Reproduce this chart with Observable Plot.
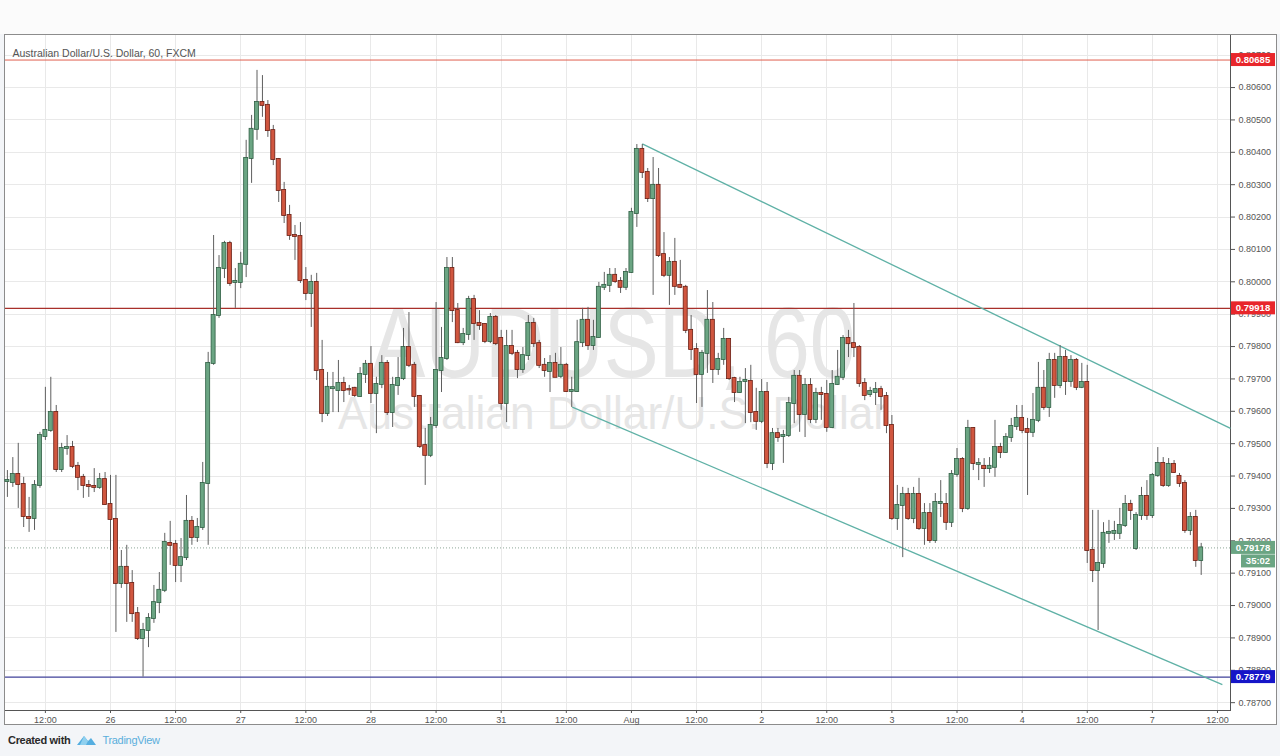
<!DOCTYPE html>
<html><head><meta charset="utf-8">
<script src="https://cdn.jsdelivr.net/npm/d3@7"></script>
<script src="https://cdn.jsdelivr.net/npm/@observablehq/plot@0.6"></script>
<style>
body{margin:0;background:#f5f6f8;font-family:"Liberation Sans",Arial,sans-serif;}
#wrap{position:relative;width:1280px;height:756px;background:#f3f5f8;overflow:hidden;}
#top{position:absolute;left:0;top:0;width:1280px;height:34px;background:#fbfbfb;}
#box{position:absolute;left:4px;top:34px;width:1273px;height:691px;background:#fff;border:1px solid #8c8c8c;box-sizing:border-box;}
#plot{position:absolute;left:0;top:0;}
#footer{position:absolute;left:8px;top:733px;font-size:11px;font-weight:bold;color:#2a2a2a;display:flex;align-items:center;gap:5px;letter-spacing:-0.3px;}
#footer .tv{color:#5aaedc;font-weight:normal;}
</style></head>
<body><div id="wrap"><div id="top"></div><div id="box"></div><div id="plot"></div>
<div id="footer"><span>Created with</span>
<svg width="22" height="14" viewBox="0 0 22 14"><path d="M2 12 L9 3 L13 8 L16 5 L21 12 Z" fill="#55aee0"/><path d="M9 3 L13 8 L11 12 L5 12 Z" fill="#8fd0ef"/></svg>
<span class="tv">TradingView</span></div></div>
<script>
// AUD/USD, 60 min candles, FXCM. Hour index: 0 = 26 Jul 00:00 (weekend hours removed)
const START_HOUR = -19;
const open = [0.79383,0.79380,0.79405,0.79374,0.79272,0.79269,0.79371,0.79522,0.79541,0.79596,
0.79420,0.79485,0.79488,0.79430,0.79396,0.79371,0.79368,0.79365,0.79389,0.79312,
0.79266,0.79068,0.79118,0.79068,0.78975,0.78898,0.78923,0.78960,0.79009,0.79047,
0.79192,0.79189,0.79124,0.79148,0.79260,0.79210,0.79241,0.79377,0.79748,0.79896,
0.80041,0.80118,0.79998,0.79998,0.80054,0.80381,0.80471,0.80554,0.80545,0.80467,
0.80378,0.80282,0.80205,0.80143,0.80140,0.80004,0.79964,0.79998,0.79726,0.79593,
0.79670,0.79664,0.79686,0.79667,0.79671,0.79646,0.79714,0.79745,0.79655,0.79683,
0.79748,0.79596,0.79680,0.79701,0.79797,0.79742,0.79646,0.79494,0.79464,0.79556,
0.79726,0.79763,0.80041,0.79911,0.79812,0.79837,0.79945,0.79871,0.79868,0.79816,
0.79890,0.79825,0.79624,0.79800,0.79779,0.79729,0.79772,0.79871,0.79809,0.79742,
0.79723,0.79748,0.79708,0.79742,0.79661,0.79661,0.79812,0.79881,0.79803,0.79828,
0.79983,0.79989,0.80020,0.80001,0.79983,0.80029,0.80211,0.80409,0.80338,0.80257,
0.80298,0.80084,0.80020,0.80060,0.79989,0.79983,0.79850,0.79791,0.79714,0.79779,
0.79881,0.79729,0.79760,0.79822,0.79701,0.79658,0.79692,0.79692,0.79596,0.79569,
0.79658,0.79439,0.79531,0.79522,0.79525,0.79624,0.79708,0.79590,0.79680,0.79575,
0.79655,0.79652,0.79550,0.79683,0.79705,0.79825,0.79809,0.79797,0.79686,0.79652,
0.79658,0.79667,0.79646,0.79556,0.79269,0.79309,0.79343,0.79269,0.79343,0.79238,
0.79284,0.79201,0.79315,0.79312,0.79257,0.79405,0.79451,0.79300,0.79547,0.79436,
0.79430,0.79423,0.79427,0.79488,0.79473,0.79519,0.79553,0.79578,0.79544,0.79535,
0.79572,0.79671,0.79612,0.79757,0.79680,0.79766,0.79692,0.79757,0.79674,0.79689,
0.79170,0.79108,0.79130,0.79223,0.79223,0.79223,0.79247,0.79312,0.79176,0.79278,
0.79337,0.79278,0.79402,0.79439,0.79371,0.79436,0.79399,0.79377,0.79232,0.79272,
0.79139];
const high = [0.79417,0.79457,0.79501,0.79396,0.79334,0.79386,0.79535,0.79674,0.79705,0.79618,
0.79501,0.79525,0.79507,0.79442,0.79405,0.79386,0.79423,0.79408,0.79411,0.79402,
0.79402,0.79170,0.79186,0.79108,0.78994,0.78945,0.78975,0.79062,0.79102,0.79223,
0.79260,0.79201,0.79207,0.79340,0.79275,0.79269,0.79442,0.79782,0.80143,0.80081,
0.80125,0.80125,0.80041,0.80091,0.80437,0.80514,0.80653,0.80637,0.80560,0.80483,
0.80381,0.80307,0.80236,0.80174,0.80183,0.80044,0.80020,0.80026,0.79819,0.79720,
0.79720,0.79757,0.79705,0.79680,0.79674,0.79735,0.79757,0.79800,0.79705,0.79772,
0.79757,0.79705,0.79766,0.79856,0.79905,0.79751,0.79649,0.79547,0.79581,0.79936,
0.79859,0.80075,0.80075,0.79933,0.79856,0.79955,0.79958,0.79911,0.79871,0.79902,
0.79896,0.79850,0.79850,0.79850,0.79788,0.79797,0.79896,0.79887,0.79819,0.79763,
0.79772,0.79779,0.79797,0.79748,0.79705,0.79881,0.79918,0.79921,0.79881,0.79998,
0.80029,0.80041,0.80041,0.80013,0.80041,0.80227,0.80424,0.80424,0.80350,0.80384,
0.80350,0.80152,0.80075,0.80134,0.80066,0.79989,0.79896,0.79809,0.79788,0.79973,
0.79936,0.79779,0.79856,0.79825,0.79705,0.79705,0.79732,0.79742,0.79671,0.79698,
0.79689,0.79547,0.79547,0.79541,0.79643,0.79726,0.79726,0.79701,0.79701,0.79671,
0.79674,0.79695,0.79726,0.79788,0.79834,0.79850,0.79933,0.79803,0.79701,0.79674,
0.79689,0.79677,0.79658,0.79587,0.79371,0.79365,0.79362,0.79365,0.79393,0.79315,
0.79315,0.79346,0.79386,0.79346,0.79417,0.79485,0.79457,0.79572,0.79550,0.79454,
0.79454,0.79457,0.79572,0.79501,0.79531,0.79578,0.79618,0.79618,0.79578,0.79655,
0.79751,0.79726,0.79779,0.79779,0.79803,0.79788,0.79772,0.79763,0.79748,0.79742,
0.79294,0.79294,0.79256,0.79263,0.79260,0.79300,0.79340,0.79325,0.79287,0.79365,
0.79386,0.79408,0.79488,0.79457,0.79454,0.79448,0.79408,0.79386,0.79287,0.79294,
0.79192];
const low = [0.79334,0.79365,0.79300,0.79241,0.79226,0.79232,0.79362,0.79510,0.79535,0.79411,
0.79411,0.79464,0.79423,0.79355,0.79331,0.79334,0.79349,0.79359,0.79309,0.79170,
0.78917,0.79053,0.78948,0.78948,0.78892,0.78779,0.78870,0.78945,0.78975,0.79040,
0.79124,0.79071,0.79071,0.79139,0.79186,0.79195,0.79232,0.79186,0.79742,0.79887,
0.80010,0.79986,0.79918,0.79979,0.80013,0.80304,0.80437,0.80508,0.80446,0.80359,
0.80245,0.80180,0.80128,0.80066,0.79995,0.79942,0.79859,0.79695,0.79565,0.79584,
0.79596,0.79596,0.79627,0.79649,0.79643,0.79643,0.79686,0.79624,0.79531,0.79670,
0.79587,0.79550,0.79649,0.79695,0.79735,0.79612,0.79485,0.79371,0.79457,0.79547,
0.79658,0.79757,0.79874,0.79809,0.79803,0.79819,0.79819,0.79850,0.79809,0.79809,
0.79803,0.79603,0.79565,0.79772,0.79701,0.79717,0.79757,0.79797,0.79732,0.79705,
0.79658,0.79705,0.79701,0.79658,0.79612,0.79658,0.79797,0.79788,0.79788,0.79825,
0.79973,0.79967,0.79995,0.79964,0.79973,0.80026,0.80168,0.80319,0.80245,0.79958,
0.80075,0.80013,0.79927,0.79958,0.79979,0.79840,0.79757,0.79624,0.79612,0.79717,
0.79686,0.79711,0.79742,0.79695,0.79627,0.79655,0.79562,0.79565,0.79541,0.79562,
0.79423,0.79417,0.79504,0.79439,0.79519,0.79562,0.79535,0.79519,0.79562,0.79562,
0.79572,0.79535,0.79547,0.79680,0.79695,0.79766,0.79766,0.79674,0.79633,0.79643,
0.79618,0.79603,0.79531,0.79263,0.79232,0.79148,0.79263,0.79253,0.79232,0.79186,
0.79192,0.79192,0.79272,0.79232,0.79241,0.79396,0.79287,0.79294,0.79417,0.79386,
0.79365,0.79408,0.79396,0.79454,0.79470,0.79504,0.79541,0.79531,0.79340,0.79519,
0.79565,0.79603,0.79581,0.79640,0.79670,0.79649,0.79674,0.79664,0.79670,0.79130,
0.79071,0.78923,0.79115,0.79192,0.79201,0.79204,0.79241,0.79263,0.79170,0.79263,
0.79263,0.79269,0.79396,0.79365,0.79365,0.79408,0.79365,0.79223,0.79216,0.79118,
0.79093];
const close = [0.79386,0.79405,0.79374,0.79275,0.79269,0.79371,0.79525,0.79541,0.79596,0.79420,
0.79485,0.79488,0.79430,0.79396,0.79371,0.79368,0.79365,0.79389,0.79312,0.79266,
0.79068,0.79118,0.79068,0.78975,0.78898,0.78923,0.78960,0.79009,0.79047,0.79195,
0.79186,0.79124,0.79148,0.79260,0.79210,0.79241,0.79377,0.79748,0.79896,0.80041,
0.80118,0.79995,0.80001,0.80054,0.80381,0.80471,0.80554,0.80545,0.80467,0.80378,
0.80282,0.80205,0.80143,0.80140,0.80004,0.79964,0.79998,0.79726,0.79593,0.79674,
0.79673,0.79686,0.79664,0.79666,0.79649,0.79714,0.79745,0.79655,0.79683,0.79748,
0.79596,0.79680,0.79701,0.79797,0.79742,0.79646,0.79491,0.79464,0.79556,0.79726,
0.79763,0.80041,0.79911,0.79812,0.79837,0.79945,0.79871,0.79865,0.79816,0.79890,
0.79809,0.79624,0.79800,0.79779,0.79729,0.79772,0.79871,0.79809,0.79742,0.79726,
0.79748,0.79705,0.79742,0.79661,0.79664,0.79812,0.79881,0.79803,0.79828,0.79983,
0.79989,0.80020,0.80001,0.79983,0.80029,0.80214,0.80409,0.80338,0.80257,0.80298,
0.80081,0.80020,0.80060,0.79986,0.79983,0.79850,0.79791,0.79714,0.79779,0.79881,
0.79729,0.79760,0.79822,0.79701,0.79658,0.79689,0.79695,0.79596,0.79569,0.79658,
0.79439,0.79531,0.79519,0.79525,0.79624,0.79708,0.79590,0.79680,0.79575,0.79655,
0.79652,0.79550,0.79683,0.79705,0.79825,0.79809,0.79797,0.79686,0.79649,0.79661,
0.79667,0.79646,0.79556,0.79269,0.79309,0.79343,0.79269,0.79343,0.79238,0.79284,
0.79201,0.79318,0.79318,0.79257,0.79405,0.79451,0.79300,0.79547,0.79439,0.79439,
0.79423,0.79430,0.79488,0.79473,0.79519,0.79553,0.79578,0.79541,0.79535,0.79572,
0.79671,0.79612,0.79757,0.79680,0.79766,0.79692,0.79757,0.79674,0.79689,0.79170,
0.79108,0.79130,0.79223,0.79226,0.79229,0.79247,0.79312,0.79294,0.79278,0.79337,
0.79278,0.79402,0.79439,0.79371,0.79436,0.79411,0.79377,0.79232,0.79272,0.79139,
0.79178];

// Axis ticks
const xTickHours  = [-12,0,12,24,36,48,60,72,84,96,108,120,132,144,156,168,180,192,204];
const xTickLabels = ["12:00","26","12:00","27","12:00","28","12:00","31","12:00","Aug","12:00","2","12:00","3","12:00","4","12:00","7","12:00"];
const yTicks = [0.787,0.788,0.789,0.790,0.791,0.792,0.793,0.794,0.795,0.796,0.797,0.798,0.799,0.800,0.801,0.802,0.803,0.804,0.805,0.806,0.807];

// Horizontal levels and price tags
const resistanceHigh = 0.80685, resistanceMid = 0.79918, supportLow = 0.78779;
const lastPrice = 0.79178, countdown = "35:02";
// Channel trend lines (hour index, price)
const trendLines = [
  {h1: 98.0, p1: 0.80426, h2: 206.4, p2: 0.79547},
  {h1: 85.1, p1: 0.79613, h2: 204.9, p2: 0.78756}
];
const title = "Australian Dollar/U.S. Dollar, 60, FXCM";
const watermark1 = "AUDUSD, 60", watermark2 = "Australian Dollar/U.S. Dollar";

const candles = open.map((o, k) => ({i: START_HOUR + k, o, h: high[k], l: low[k], c: close[k]}));
const up = candles.filter(d => d.c >= d.o), down = candles.filter(d => d.c < d.o);
const labelMap = new Map(xTickHours.map((h, k) => [h, xTickLabels[k]]));

const UP = "#6ba583", UPB = "#2f5e43", DN = "#d0563f", DNB = "#6a1d12", WICK = "#5f5f5f";

const chart = Plot.plot({
  width: 1280, height: 726,
  marginLeft: 5, marginRight: 50, marginTop: 35, marginBottom: 16,
  style: {fontFamily: "'Liberation Sans', Arial, sans-serif", fontSize: "9px", color: "#555", background: "transparent", overflow: "visible"},
  x: {domain: [-19.35, 206.4], ticks: xTickHours, tickFormat: d => labelMap.get(d), tickSize: 3, tickPadding: 3, line: true, label: null},
  y: {domain: [0.786758, 0.807608], axis: "right", ticks: yTicks, tickFormat: d3.format(".5f"), tickSize: 4, tickPadding: 4, line: true, label: null},
  marks: [
    Plot.ruleX(xTickHours, {stroke: "#e9e9e9", shapeRendering: "crispEdges"}),
    Plot.ruleY(yTicks, {stroke: "#e9e9e9", shapeRendering: "crispEdges"}),
    Plot.text([watermark1], {text: d => d, frameAnchor: "middle", dx: -5, dy: -28, fontSize: 100, fill: "#e6e6e6"}),
    Plot.text([watermark2], {text: d => d, frameAnchor: "middle", dx: -5, dy: 41, fontSize: 46, fill: "#e6e6e6"}),
    Plot.text([title], {text: d => d, frameAnchor: "top-left", dx: 7, dy: 14, textAnchor: "start", fontSize: 10.5, fill: "#555"}),
    Plot.ruleY([resistanceHigh], {stroke: "#e0604f", strokeWidth: 1}),
    Plot.ruleY([resistanceMid], {stroke: "#a8302b", strokeWidth: 1.2}),
    Plot.ruleY([supportLow], {stroke: "#40429a", strokeWidth: 1.2}),
    Plot.ruleY([lastPrice], {stroke: "#8fa898", strokeDasharray: "1,2"}),
    Plot.link(trendLines, {x1: "h1", y1: "p1", x2: "h2", y2: "p2", stroke: "#5fb1a6", strokeWidth: 1.3}),
    Plot.ruleX(candles, {x: "i", y1: "l", y2: "h", stroke: WICK, strokeWidth: 1}),
    Plot.rect(up, {x1: d => d.i - 0.37, x2: d => d.i + 0.37, y1: "o", y2: "c", fill: UP, stroke: UPB, strokeWidth: 0.8, insetTop: -0.5, insetBottom: -0.5}),
    Plot.rect(down, {x1: d => d.i - 0.37, x2: d => d.i + 0.37, y1: "o", y2: "c", fill: DN, stroke: DNB, strokeWidth: 0.8, insetTop: -0.5, insetBottom: -0.5})
  ]
});
document.getElementById("plot").appendChild(chart);

const svg = d3.select(chart);
svg.selectAll("text").filter(function(){ return this.textContent === watermark1; })
   .attr("textLength", 485).attr("lengthAdjust", "spacingAndGlyphs");
svg.selectAll("text").filter(function(){ return this.textContent === watermark2; })
   .attr("textLength", 550).attr("lengthAdjust", "spacingAndGlyphs");

const yS = chart.scale("y");
const tags = svg.append("g").attr("font-family", "'Liberation Sans', Arial, sans-serif").attr("font-size", 9.5).attr("font-weight", "bold");
function tag(price, text, fill, dy, x0) {
  const y = yS.apply(price) + dy;
  tags.append("rect").attr("x", x0).attr("y", y - 6.5).attr("width", 1275 - x0).attr("height", 13).attr("fill", fill);
  tags.append("text").attr("x", (x0 + 1275) / 2).attr("y", y).attr("dy", "0.35em").attr("text-anchor", "middle").attr("fill", "#fff").text(text);
}
tag(resistanceHigh, d3.format(".5f")(resistanceHigh), "#e8262b", 0, 1231);
tag(resistanceMid, d3.format(".5f")(resistanceMid), "#e8262b", 0, 1231);
tag(supportLow, d3.format(".5f")(supportLow), "#1616c8", 0, 1231);
tag(lastPrice, d3.format(".5f")(lastPrice), "#6ba583", 0, 1231);
tag(lastPrice, countdown, "#6ba583", 13.5, 1241);
</script></body></html>
